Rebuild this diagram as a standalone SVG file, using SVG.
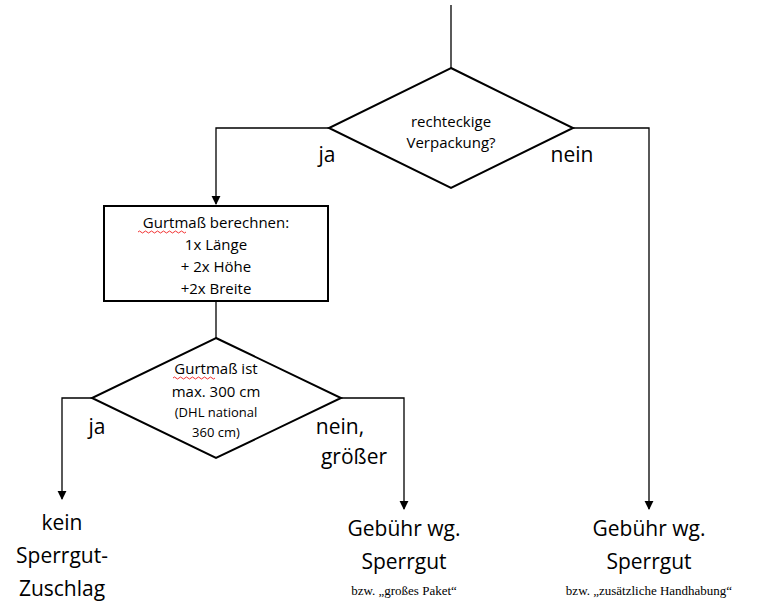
<svg xmlns="http://www.w3.org/2000/svg" width="771" height="606" viewBox="0 0 771 606">
<defs>
<style>
.s{fill:none;stroke:#000;stroke-width:1.3}
.n{fill:#fff;stroke:#000;stroke-width:2}
text{font-family:"Open Sans","Liberation Sans",sans-serif;fill:#000;text-anchor:middle}
.m{font-size:15px}
.sm{font-size:13px}
.l{font-size:21px}
.t{font-family:"Liberation Serif",serif;font-size:13px}
.w{fill:none;stroke:#e00;stroke-width:0.8}
</style>
<marker id="a" viewBox="0 0 10 10" refX="9" refY="5" markerWidth="7" markerHeight="7" orient="auto"><path d="M0,0L10,5L0,10z" fill="#000"/></marker>
</defs>
<rect width="771" height="606" fill="#fff"/>
<g id="connectors">
<path class="s" d="M451,5V68"/>
<path class="s" d="M329,128H216V204" marker-end="url(#a)"/>
<path class="s" d="M573,128H649V509" marker-end="url(#a)"/>
<path class="s" d="M216,301V338"/>
<path class="s" d="M92,398H62V499" marker-end="url(#a)"/>
<path class="s" d="M341,398H404V509" marker-end="url(#a)"/>
<text class="l" x="327" y="162">ja</text>
<text class="l" x="572" y="162">nein</text>
<text class="l" x="97" y="434">ja</text>
<text class="l" x="340" y="434">nein,</text>
<text class="l" x="354" y="464">größer</text>
</g>
<g id="d1">
<polygon class="n" points="451,68 573,128 451,188 329,128"/>
<text class="m" x="451" y="127">rechteckige</text>
<text class="m" x="451" y="148">Verpackung?</text>
</g>
<g id="r1">
<rect class="n" x="104" y="206" width="224" height="95"/>
<text class="m" x="216" y="228">Gurtmaß berechnen:</text>
<path class="w" d="M138,232q1.5,-2 3,0t3,0t3,0t3,0t3,0t3,0t3,0t3,0t3,0t3,0t3,0t3,0t3,0t3,0t3,0t3,0"/>
<text class="m" x="216" y="250">1x Länge</text>
<text class="m" x="216" y="272">+ 2x Höhe</text>
<text class="m" x="216" y="294">+2x Breite</text>
</g>
<g id="d2">
<polygon class="n" points="216,338 341,398 216,458 92,398"/>
<text class="m" x="216" y="374">Gurtmaß ist</text>
<path class="w" d="M173,378q1.5,-2 3,0t3,0t3,0t3,0t3,0t3,0t3,0t3,0t3,0t3,0t3,0t3,0t3,0t3,0"/>
<text class="m" x="216" y="397">max. 300 cm</text>
<text class="sm" x="216" y="417">(DHL national</text>
<text class="sm" x="216" y="437">360 cm)</text>
</g>
<g id="o1">
<text class="l" x="62" y="530">kein</text>
<text class="l" x="62" y="563">Sperrgut-</text>
<text class="l" x="62" y="596">Zuschlag</text>
</g>
<g id="o2">
<text class="l" x="404" y="536">Gebühr wg.</text>
<text class="l" x="404" y="569">Sperrgut</text>
<text class="t" x="404" y="595">bzw. „großes Paket“</text>
</g>
<g id="o3">
<text class="l" x="649" y="536">Gebühr wg.</text>
<text class="l" x="649" y="569">Sperrgut</text>
<text class="t" x="649" y="595">bzw. „zusätzliche Handhabung“</text>
</g>
</svg>
